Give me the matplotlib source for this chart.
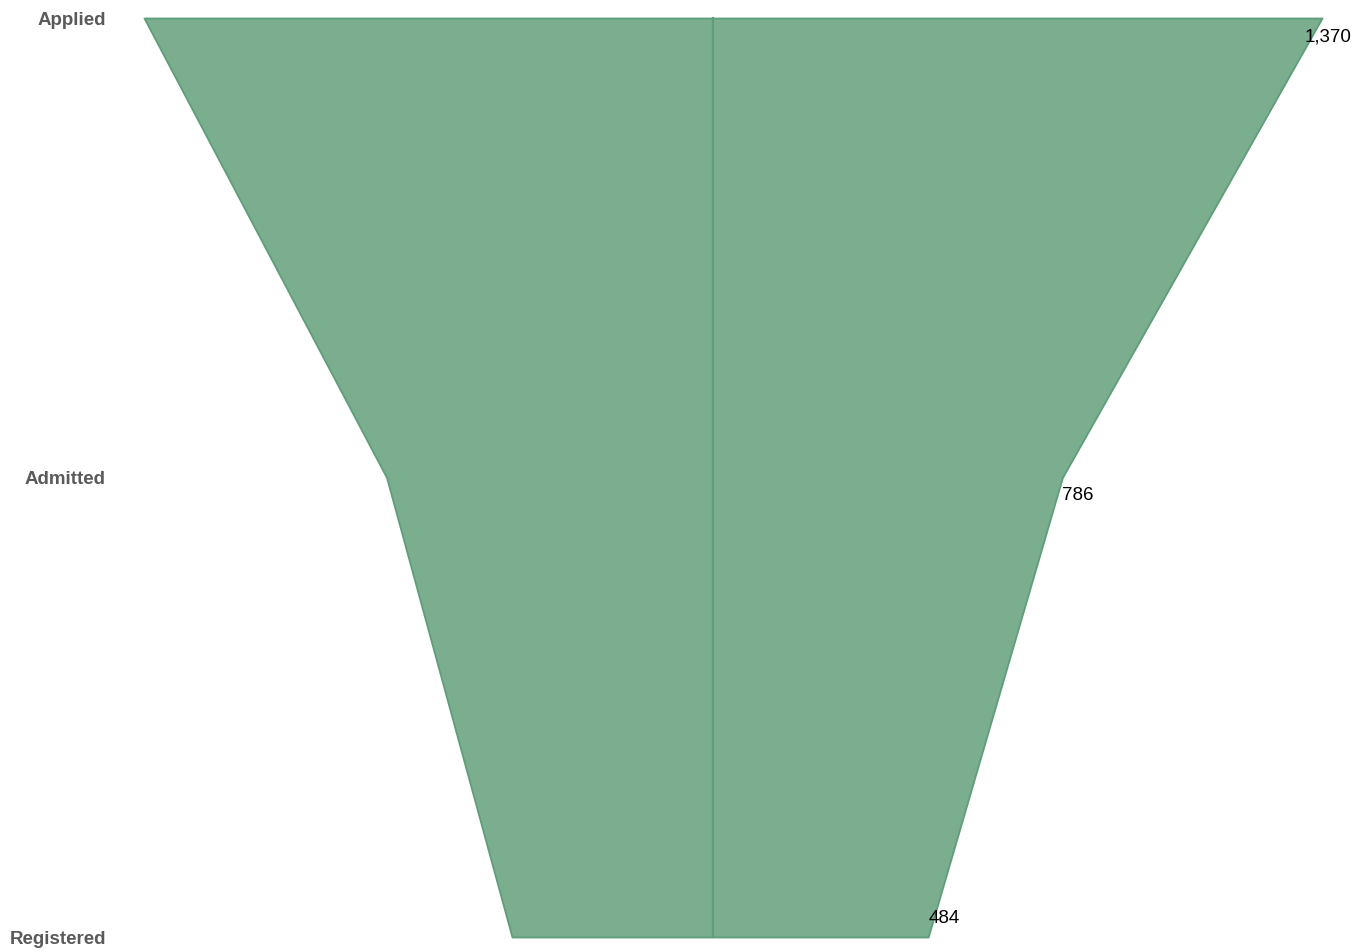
import numpy as np
import matplotlib.pyplot as plt

# funnel data
stages = ['Applied', 'Admitted', 'Registered']
counts = [1370, 786, 484]

fill_color = '#7bad8f'
edge_color = '#5e9e78'

fig = plt.figure(figsize=(13.66, 9.52), dpi=100)
ax = fig.add_axes([0, 0, 1, 1])

y = np.arange(len(stages))
v = np.array(counts, dtype=float)
# the divider line sits a little left of the funnel middle
left_share = 0.483
xl = -v * left_share
xr = v * (1 - left_share)

ax.fill_betweenx(y, xl, xr, facecolor=fill_color, edgecolor=edge_color, linewidth=1.3)
ax.plot([0, 0], [y[0], y[-1]], color=edge_color, linewidth=1.6)

# pixel mapping: top width 1178px, divider at 713px, stages 18px..937px
px_per_unit = 1178.0 / counts[0]
ax.set_xlim(-713 / px_per_unit, (1366 - 713) / px_per_unit)
px_per_stage = (937 - 18) / (len(stages) - 1)
ax.set_ylim(2 + 15 / px_per_stage, -18 / px_per_stage)
ax.axis('off')

for i, name in enumerate(stages):
    ax.annotate(name, xy=(106 / 1366, y[i]), xycoords=ax.get_yaxis_transform(),
                xytext=(0, -1.5), textcoords='offset points',
                ha='right', va='center', fontsize=13.5, fontweight='bold',
                color='#5a5a5a', family=['Liberation Sans', 'DejaVu Sans'])

# value labels near the right edge of each level
x_off = [-17, 0, 0]
y_off = [-19, -18, 18]
for i, c in enumerate(counts):
    ax.annotate(f'{c:,}', xy=(xr[i], y[i]), xytext=(x_off[i] * 0.72, y_off[i] * 0.72),
                textcoords='offset points', ha='left', va='center', fontsize=13.5,
                color='black', family=['Liberation Sans', 'DejaVu Sans'])

fig.savefig('out.png', dpi=100)
